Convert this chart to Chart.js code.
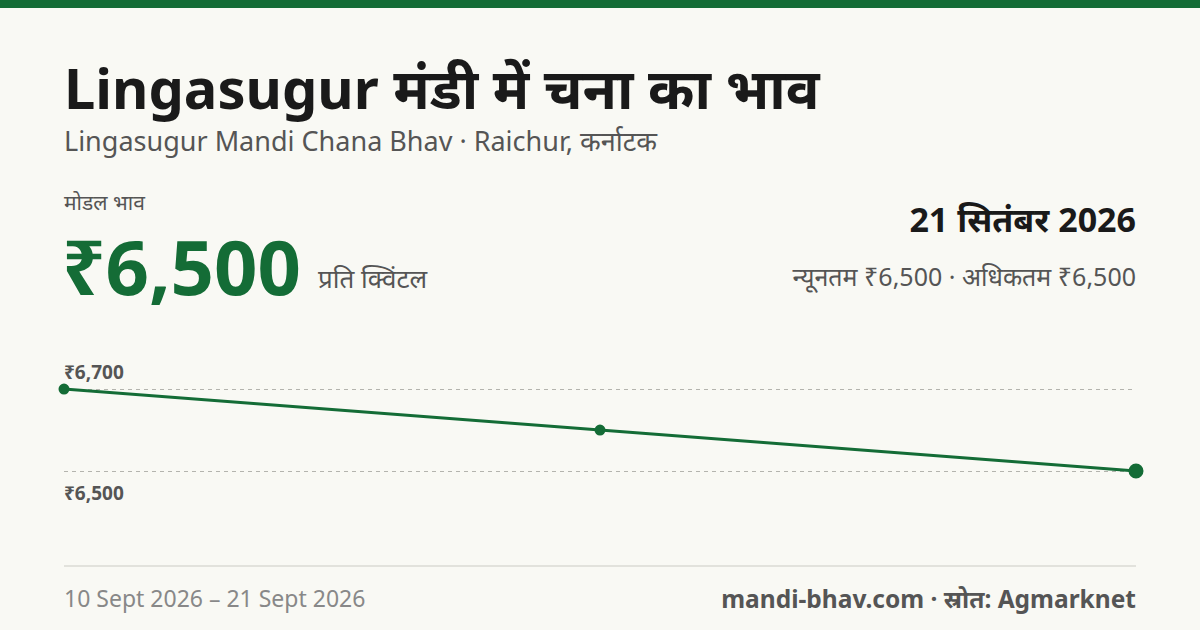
<!DOCTYPE html><html><head><meta charset="utf-8">
<script src="https://cdn.jsdelivr.net/npm/chart.js@4"></script>
<style>
body{margin:0;width:1200px;height:630px;background:#f9f9f4;font-family:"Noto Sans",sans-serif;position:relative;overflow:hidden}
.a{position:absolute;white-space:nowrap}
</style></head><body>
<div class="a" style="left:0;top:0;width:1200px;height:8px;background:#146c36"></div>
<div class="a" style="left:64px;top:49px;font-size:56px;font-weight:700;color:#1a1a1a">Lingasugur मंडी में चना का भाव</div>
<div class="a" style="left:64px;top:122px;font-size:27px;color:#555">Lingasugur Mandi Chana Bhav · Raichur, कर्नाटक</div>
<div class="a" style="left:64px;top:188px;font-size:21px;color:#555">मोडल भाव</div>
<div class="a" style="left:62px;top:214px;font-size:76px;font-weight:700;color:#146c36">₹6,500</div>
<div class="a" style="left:318px;top:260px;font-size:26px;color:#555">प्रति क्विंटल</div>
<div class="a" style="right:64px;top:196px;font-size:34px;font-weight:700;color:#1a1a1a">21 सितंबर 2026</div>
<div class="a" style="right:64px;top:259px;font-size:25px;color:#555">न्यूनतम ₹6,500 · अधिकतम ₹6,500</div>
<div class="a" style="left:64px;top:359px;font-size:19px;font-weight:700;color:#555">₹6,700</div>
<div class="a" style="left:64px;top:480px;font-size:19px;font-weight:700;color:#555">₹6,500</div>
<div class="a" style="left:64px;top:565px;width:1072px;height:2px;background:#e2e2dc"></div>
<div class="a" style="left:64px;top:582px;font-size:23px;color:#888">10 Sept 2026 – 21 Sept 2026</div>
<div class="a" style="right:64px;top:582px;font-size:24.5px;font-weight:700;color:#555">mandi-bhav.com · स्रोत: Agmarknet</div>
<div class="a" style="left:55px;top:340px;width:1090px;height:182px"><canvas id="c"></canvas></div>
<script>
const labels=["10 Sept","15 Sept","21 Sept"];
const prices=[6700,6600,6500];
const gridTicks=[6500,6700];
new Chart(document.getElementById('c'),{type:'line',
data:{labels,datasets:[{data:prices,borderColor:'#146c36',backgroundColor:'#146c36',borderWidth:3,pointRadius:[4,4,6],pointHoverRadius:[4,4,6],tension:0,clip:false}]},
options:{responsive:true,maintainAspectRatio:false,animation:false,layout:{padding:0},
plugins:{legend:{display:false},tooltip:{enabled:false}},
scales:{x:{display:false,offset:false},
y:{min:6397.6,max:6797.6,afterBuildTicks:a=>{a.ticks=gridTicks.map(v=>({value:v}))},
ticks:{display:false},border:{display:false,dash:[4,4]},grid:{color:'#b4b4ae',drawTicks:false}}}}});
</script></body></html>
